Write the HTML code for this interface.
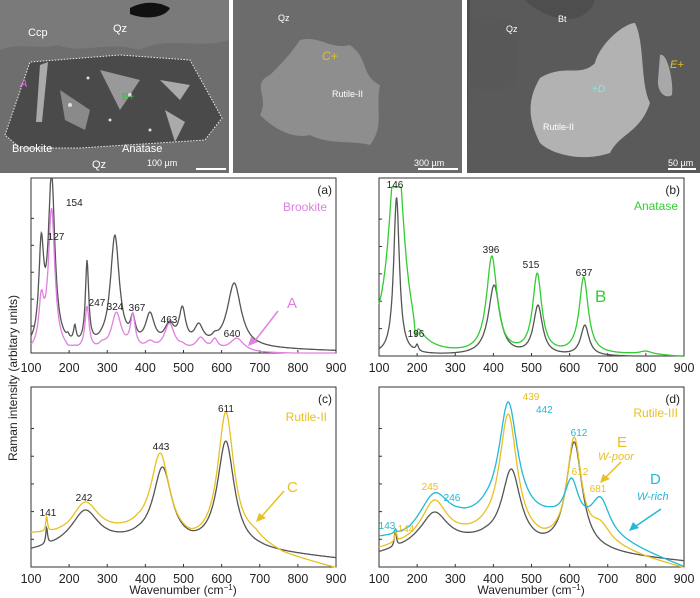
<!DOCTYPE html>
<html><head><meta charset="utf-8"><style>
body{margin:0;background:#fff;width:700px;height:598px;overflow:hidden}
svg{display:block;font-family:"Liberation Sans",Arial,sans-serif}
</style></head><body>
<svg id="s" width="700" height="598" xmlns="http://www.w3.org/2000/svg">
<rect x="0" y="0" width="229" height="173" fill="#6e6e6e"/>
<path d="M0 0h229v40c-30 10-60-5-90 10c-30-10-60 5-80-5c-20 5-40-3-59 5z" fill="#7a7a7a"/>
<path d="M130 8c15-8 30-6 40 0c-5 10-25 12-40 6z" fill="#111"/>
<path d="M5 135 L30 62 L120 55 L190 60 L222 118 L205 140 L80 148 L20 148 Z" fill="#4a4a4a" stroke="#eee" stroke-dasharray="1.5 1.5" stroke-width="1"/>
<g fill="#aaa"><path d="M40 65l8-3l-6 60l-6 0z"/><path d="M160 80l30 5l-10 15z"/><path d="M165 110l20 12l-10 20z"/><path d="M60 90l30 20l-5 20l-20 -10z" fill="#8a8a8a"/><path d="M100 70l40 10l-20 30z" fill="#999"/></g>
<g fill="#ddd"><circle cx="70" cy="105" r="2"/><circle cx="110" cy="120" r="1.5"/><circle cx="130" cy="95" r="2"/><circle cx="88" cy="78" r="1.5"/><circle cx="150" cy="130" r="1.5"/></g>
<g fill="#fff" font-size="11"><text x="28" y="36">Ccp</text><text x="113" y="32">Qz</text><text x="12" y="152">Brookite</text><text x="122" y="152">Anatase</text><text x="92" y="168">Qz</text><text x="147" y="166" font-size="9">100 µm</text></g>
<rect x="196" y="168" width="30" height="2" fill="#fff"/>
<text x="20" y="87" fill="#d070d0" font-size="11" font-style="italic">A</text>
<text x="122" y="100" fill="#2c2" font-size="10">B+</text>
<rect x="233" y="0" width="229" height="173" fill="#6c6c6c"/>
<path d="M300 40c20-5 30 10 50 5c20 15 10 30 30 40c-5 25 5 40 -10 60c-20-5-40 0-60-10c-20 5-40-10-50-20c10-20 -10-30 10-40c10-10 20-20 30-35z" fill="#8e8e8e"/>
<g fill="#fff" font-size="9"><text x="278" y="21">Qz</text><text x="332" y="97">Rutile-II</text><text x="414" y="166">300 µm</text></g>
<rect x="418" y="168" width="40" height="2" fill="#fff"/>
<text x="322" y="60" fill="#e8c020" font-size="12" font-style="italic">C+</text>
<rect x="467" y="0" width="233" height="173" fill="#4e4e4e"/>
<path d="M470 0h55c20 20 60 30 70 0h105v173h-233z" fill="#5a5a5a"/>
<path d="M470 20c10-5 40-5 50 10l-5 55c-20 10-40 5-45 0z" fill="#585858"/>
<path d="M540 78c25-15 40 0 55 -15c5-20 30-40 40-40c10 20 5 60 15 80c-10 30-30 30-40 50c-30 10-60 0-70-10c-10-20-15-40 0-65z" fill="#b2b2b2"/>
<path d="M660 55c8-3 14 30 12 40c-8 5-15-5-14-15z" fill="#a8a8a8"/>
<g fill="#fff" font-size="9"><text x="506" y="32">Qz</text><text x="558" y="22">Bt</text><text x="543" y="130">Rutile-II</text><text x="668" y="166">50 µm</text></g>
<rect x="668" y="168" width="28" height="2" fill="#fff"/>
<text x="592" y="92" fill="#7ee" font-size="10" font-style="italic">+D</text>
<text x="670" y="68" fill="#e8c020" font-size="11" font-style="italic">E+</text>
<g id="charts"></g>
<text transform="translate(17,378) rotate(-90)" font-size="12" text-anchor="middle" fill="#222">Raman intensity (arbitary units)</text>
<text x="183" y="594" font-size="12" text-anchor="middle" fill="#222">Wavenumber (cm<tspan dy="-4" font-size="8">−1</tspan><tspan dy="4">)</tspan></text>
<text x="531" y="594" font-size="12" text-anchor="middle" fill="#222">Wavenumber (cm<tspan dy="-4" font-size="8">−1</tspan><tspan dy="4">)</tspan></text>
</svg>
<script>
var NS="http://www.w3.org/2000/svg",G=document.getElementById("charts");
function el(t,a,txt){var e=document.createElementNS(NS,t);for(var k in a)e.setAttribute(k,a[k]);if(txt!=null)e.textContent=txt;G.appendChild(e);return e;}
function lin(pts,w){for(var i=0;i<pts.length-1;i++){if(w<=pts[i+1][0]){var t=(w-pts[i][0])/(pts[i+1][0]-pts[i][0]);return pts[i][1]+t*(pts[i+1][1]-pts[i][1]);}}return pts[pts.length-1][1];}
function frame(x0,y0,x1,y1,lab,ty){
 el("rect",{x:x0,y:y0,width:x1-x0,height:y1-y0,fill:"none",stroke:"#333","stroke-width":1});
 for(var w=100;w<=900;w+=100){var x=x0+(w-100)/800*(x1-x0);el("line",{x1:x,y1:y1,x2:x,y2:y1-3,stroke:"#333"});el("text",{x:x,y:ty,"font-size":"12.5","text-anchor":"middle",fill:"#222"},w);}
 for(var i=1;i<6;i++){var y=y1-i*(y1-y0)/6.5;el("line",{x1:x0,y1:y,x2:x0+3,y2:y,stroke:"#333"});}
 el("text",{x:x1-4,y:y0+16,"font-size":"12","text-anchor":"end",fill:"#222"},lab);
}
function curve(x0,y0,x1,y1,base,peaks,col,clip,ws){
 ws=ws||1;
 var P=peaks.map(function(p){return {c:p[0],t:p[1],g:p[2]*ws,h:lin(base,p[0])-p[1]};});
 function f(w){var y=lin(base,w);for(var p of P){y-=p.h*p.g*p.g/((w-p.c)*(w-p.c)+p.g*p.g);}return y;}
 for(var it=0;it<60;it++){for(var p of P){p.h+=0.8*(f(p.c)-p.t);}}
 var d="";for(var w=100;w<=900;w+=1.5){var y=f(w);
 if(clip!=null&&y<clip)y=clip; if(y<y0)y=y0; if(y>y1)y=y1;
 var x=x0+(w-100)/800*(x1-x0);d+=(d?"L":"M")+x.toFixed(1)+" "+y.toFixed(1);}
 el("path",{d:d,fill:"none",stroke:col,"stroke-width":1.3});
}
function T(x,y,s,c,sz,it,anc){el("text",{x:x,y:y,"font-size":sz||10,fill:c||"#222","font-style":it?"italic":"normal","text-anchor":anc||"middle"},s);}
var PK="#e080e0",GR="#555",GN="#33cc33",YL="#e8c020",CY="#22b8d8";
// (a)
frame(31,178,336,353,"(a)",372);
curve(31,178,336,353,[[100,350],[200,350],[600,349],[700,349],[900,351]],[[127,233,6],[154,172,8],[197,332,3],[215,324,3],[247,260,4],[287,327,8],[320,235,11],[367,313,6],[412,312,11],[463,321,12],[497,306,8],[540,323,11],[582,331,7],[633,283,17]],GR,null,1.3);
curve(31,178,336,353,[[100,353],[200,353],[640,351],[700,353],[900,354]],[[127,290,6],[154,208,8],[197,345,3],[215,345,3],[247,306,5],[287,340,8],[324,312,12],[367,313,6],[412,340,11],[463,323,12],[497,342,8],[545,337,11],[582,338,7],[640,338,16]],PK,null,1.3);
T(56,240,"127");T(66,206,"154",null,10,0,"start");T(97,306,"247");T(115,310,"324");T(137,311,"367");T(169,323,"463");T(232,337,"640");
T(327,211,"Brookite",PK,12,0,"end");T(287,308,"A",PK,15,0,"start");
el("line",{x1:278,y1:311,x2:254,y2:342,stroke:PK,"stroke-width":1.5});el("path",{d:"M248 346l3-9l7 5z",fill:PK});
// (b)
frame(379,178,684,356,"(b)",372);
curve(379,178,684,356,[[100,355],[900,357]],[[146,197,7],[200,344,3],[402,285,14],[517,305,11],[640,325,10]],GR,null,1.3);
curve(379,178,684,356,[[100,348],[180,356],[300,356],[800,355],[900,357]],[[146,140,18],[196,336,3],[396,256,13],[515,273,11],[637,277,11],[800,351,15]],GN,187,1.3);
T(395,188,"146");T(416,337,"196");T(491,253,"396");T(531,268,"515");T(584,276,"637");
T(678,210,"Anatase",GN,12,0,"end");T(595,302,"B",GN,17,0,"start");
// (c)
frame(31,387,336,567,"(c)",583);
curve(31,387,336,567,[[100,552],[200,547],[380,543],[520,550],[700,552],[900,559]],[[141,527,2],[242,510,32],[445,467,22],[611,441,20]],GR,null,1.35);
curve(31,387,336,567,[[100,536],[200,540],[380,535],[520,549],[690,545],[760,556],[900,569]],[[141,516,2],[242,502,32],[439,453,22],[611,412,19],[680,525,18]],YL,null,1.35);
T(48,516,"141");T(84,501,"242");T(161,450,"443");T(226,412,"611");
T(327,421,"Rutile-II",YL,12,0,"end");T(287,492,"C",YL,15,0,"start");
el("line",{x1:284,y1:491,x2:262,y2:516,stroke:YL,"stroke-width":1.5});el("path",{d:"M256 522l3-9l7 5z",fill:YL});
// (d)
frame(379,387,684,567,"(d)",583);
curve(379,387,684,567,[[100,555],[200,548],[380,543],[525,552],[700,555],[900,562]],[[143,528,2],[245,512,32],[447,469,22],[612,442,19]],GR,null,1.35);
curve(379,387,684,567,[[100,551],[200,545],[380,538],[530,548],[700,547],[800,559],[900,569]],[[144,529,2],[245,500,30],[439,414,21],[612,437,17],[680,520,20]],YL,null,1.35);
curve(379,387,684,567,[[100,541],[180,542],[380,521],[550,523],[760,548],[900,568]],[[143,529,2],[245,493,38],[310,507,7],[439,402,23],[605,478,17],[681,497,23]],CY,null,1.3);
T(387,529,"143",CY);T(406,532,"144",YL);T(430,490,"245",YL);T(452,501,"246",CY);T(531,400,"439",YL);T(536,413,"442",CY,10,0,"start");
T(579,436,"612",CY);T(580,475,"612",YL);T(598,492,"681",YL);
T(678,417,"Rutile-III",YL,12,0,"end");T(617,447,"E",YL,15,0,"start");T(598,460,"W-poor",YL,11,1,"start");
T(650,484,"D",CY,15,0,"start");T(637,500,"W-rich",CY,11,1,"start");
el("line",{x1:621,y1:462,x2:606,y2:477,stroke:YL,"stroke-width":1.5});el("path",{d:"M600 483l3-9l7 5z",fill:YL});
el("line",{x1:661,y1:509,x2:636,y2:526,stroke:CY,"stroke-width":1.5});el("path",{d:"M629 531l4-9l6 6z",fill:CY});
</script>
</body></html>
